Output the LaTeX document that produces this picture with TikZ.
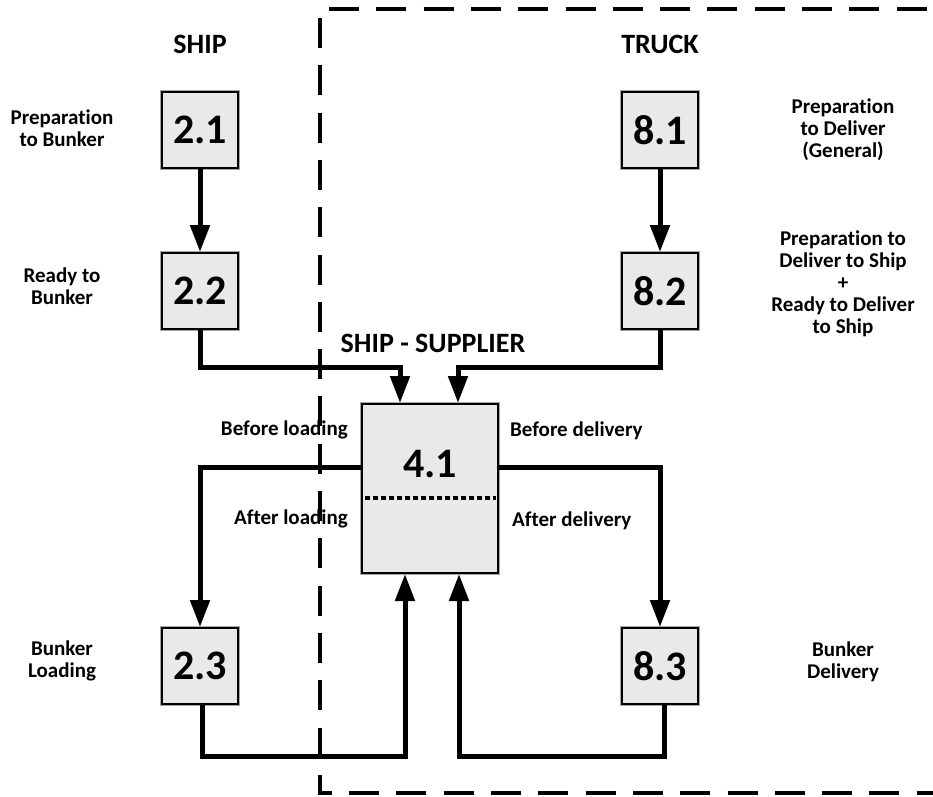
\documentclass[tikz,border=0pt]{standalone}
\usepackage{fontspec}
\setmainfont[Ligatures=NoCommon]{Carlito}
\usetikzlibrary{arrows.meta}
\begin{document}
\begin{tikzpicture}[x=1pt,y=-1pt,
  box/.style={draw=black,line width=2pt,fill=gray!17,minimum width=76pt,minimum height=76pt,inner sep=0pt,
    font=\fontsize{42}{44}\selectfont\bfseries,preaction={draw=gray!70,line width=4.5pt}},
  bigbox/.style={box,minimum width=136pt,minimum height=169pt},
  num/.style={font=\fontsize{42}{44}\selectfont\bfseries,inner sep=0pt},
  lab/.style={font=\fontsize{21}{22}\selectfont\bfseries,align=center,inner sep=0pt},
  ttl/.style={font=\fontsize{28}{30}\selectfont\bfseries,inner sep=0pt},
  arr/.style={line width=5pt,-{Triangle[width=19pt,length=27pt]}},
  frame/.style={line width=4pt,dash pattern=on 30pt off 17.3pt},
  sep/.style={line width=3.5pt,dash pattern=on 5pt off 3pt}]
\useasboundingbox (0,0) rectangle (933,796);

% dashed frame
\draw[frame] (329,9) -- (945,9);
\draw[frame] (320,18) -- (320,793) -- (945,793);

% titles
\node[ttl] (tship) at (200,44) {SHIP};
\node[ttl] (ttruck) at (660,44) {TRUCK};
\node[ttl] (tss) at (433,343) {SHIP - SUPPLIER};

% boxes
\node[box] (b21) at (200,130) {2.1};
\node[box] (b22) at (200,291) {2.2};
\node[box] (b23) at (200,666) {2.3};
\node[box] (b81) at (660,130) {8.1};
\node[box] (b82) at (660,291) {8.2};
\node[box] (b83) at (660,666) {8.3};
\node[bigbox] (b41) at (430,488.5) {};
\node[num] (n41) at (430,464) {4.1};
\coordinate (d1) at (365,498);
\coordinate (d2) at (496,498);
\draw[sep] (d1) -- (d2);

% labels
\node[lab] (l21) at (62,128) {Preparation\\to Bunker};
\node[lab] (l22) at (62,286) {Ready to\\Bunker};
\node[lab] (l23) at (62,661) {Bunker\\Loading};
\node[lab] (l81) at (843,130) {Preparation\\to Deliver\\(General)};
\node[lab] (l82) at (843,284) {Preparation to\\Deliver to Ship\\+\\Ready to Deliver\\to Ship};
\node[lab] (l83) at (843,662) {Bunker\\Delivery};
\node[lab,anchor=east] (lbl) at (348,430) {Before loading};
\node[lab,anchor=east] (lal) at (348,519) {After loading};
\node[lab,anchor=west] (lbd) at (510,431) {Before delivery};
\node[lab,anchor=west] (lad) at (512,521) {After delivery};

% connectors
\draw[arr] (b21) -- (b22);
\draw[arr] (b81) -- (b82);
\draw[arr] (b22.south) -- ++(0,37) -| ([xshift=-30pt]b41.north);
\draw[arr] (b82.south) -- ++(0,37) -| ([xshift=28pt]b41.north);
\draw[arr] ([yshift=21.5pt]b41.west) -| (b23.north);
\draw[arr] ([yshift=21.5pt]b41.east) -| (b83.north);
\draw[arr] ([xshift=2pt]b23.south) -- ++(0,51) -| ([xshift=-25pt]b41.south);
\draw[arr] ([xshift=4pt]b83.south) -- ++(0,51) -| ([xshift=29pt]b41.south);
\end{tikzpicture}
\end{document}
